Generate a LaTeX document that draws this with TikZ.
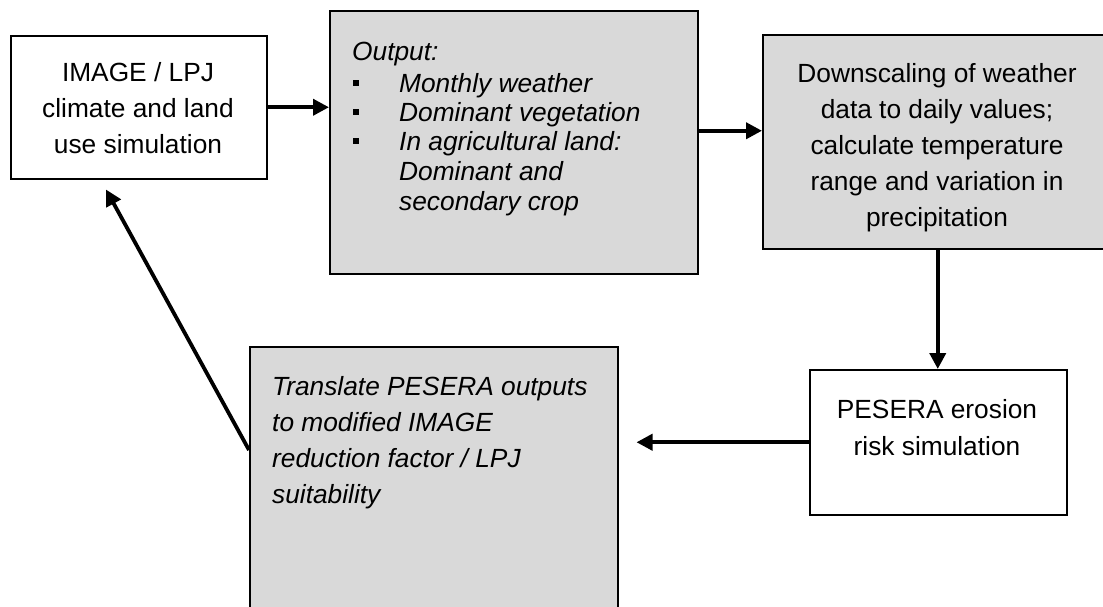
\documentclass[tikz,border=0pt]{standalone}
\usepackage{fontspec}
\setmainfont{Liberation Sans}
\usetikzlibrary{arrows.meta,calc}
\definecolor{boxgray}{HTML}{D9D9D9}
\begin{document}
\begin{tikzpicture}[x=1pt,y=-1pt,
  box/.style={draw=black,line width=1.5pt,inner sep=0pt,anchor=north west},
  graybox/.style={box,fill=boxgray},
  txt/.style={inner sep=0pt,font=\fontsize{26.3}{36}\selectfont},
  itxt/.style={inner sep=0pt,font=\fontsize{26.3}{36}\selectfont\itshape},
  arr/.style={line width=3.8pt,-{Triangle[length=16pt,width=16pt]}},
  bul/.style={fill=black,inner sep=0pt,minimum size=6pt}]
\useasboundingbox (0,0) rectangle (1103,606);
% boxes
\node[box,minimum width=256pt,minimum height=143pt] (A) at (10,35) {};
\node[graybox,minimum width=368pt,minimum height=263pt] (B) at (329,10) {};
\node[graybox,minimum width=350pt,minimum height=214pt] (C) at (762,34) {};
\node[box,minimum width=257pt,minimum height=145pt] (D) at (809,369) {};
\node[graybox,minimum width=368pt,minimum height=280pt] (E) at (249,346) {};
% texts
\foreach \t [count=\i] in {IMAGE / LPJ, climate and land, use simulation}
  \node[txt,anchor=base] (a\i) at (138,{81+36*(\i-1)}) {\t};
\node[itxt,anchor=base west] (bo) at (352,60) {Output:};
\foreach \t/\y [count=\i] in {Monthly weather/92, Dominant vegetation/121, In agricultural land:/150, Dominant and/180, secondary crop/210}
  \node[itxt,anchor=base west] (b\i) at (399,\y) {\t};
\foreach \y [count=\i] in {92,121,150}
  \node[bul] (bb\i) at (356,{\y-9}) {};
\foreach \t [count=\i] in {Downscaling of weather, data to daily values;, calculate temperature, range and variation in, precipitation}
  \node[txt,anchor=base] (c\i) at (937,{82+36.2*(\i-1)}) {\t};
\foreach \t [count=\i] in {PESERA erosion, risk simulation}
  \node[txt,anchor=base] (d\i) at (937,{418+37*(\i-1)}) {\t};
\foreach \t [count=\i] in {Translate PESERA outputs, to modified IMAGE, reduction factor / LPJ, suitability}
  \node[itxt,anchor=base west] (e\i) at (272,{395+36*(\i-1)}) {\t};
% connectors
\draw[arr] (A.east) -- (A.east -| B.west);
\coordinate (bc) at ($(B.east)+(0,-11.5)$);
\draw[arr] (bc) -- (bc -| C.west);
\draw[arr] (C.south) -- (C.south |- D.north);
\draw[arr,shorten >=18pt] (D.west) -- (D.west -| E.east);
\coordinate (ea) at ($(E.north west)+(0,104)$);
\coordinate (ae) at ($(A.south west)+(96,10)$);
\draw[arr] (ea) -- (ae);
\end{tikzpicture}
\end{document}
